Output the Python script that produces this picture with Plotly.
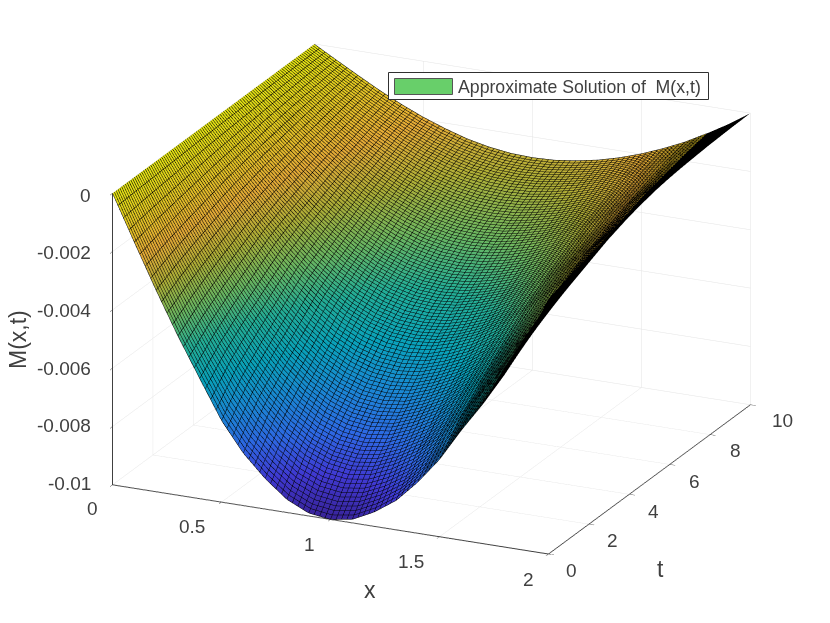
import plotly.graph_objects as go

# Values
x_vals = [0.0, 0.1, 0.2, 0.3, 0.4, 0.5, 0.6, 0.7, 0.8, 0.9, 1.0, 1.1, 1.2, 1.3, 1.4, 1.5, 1.6, 1.7, 1.8, 1.9, 2.0]
t_vals = [0, 1, 2, 3, 4, 5, 6, 7, 8, 9, 10]
M_t0 = [0, -.00156, -.00309, -.00454, -.00588, -.00720, -.00820, -.00895, -.00955, -.00990, -.01000, -.00988, -.00951, -.00900, -.00825, -.00735, -.00623, -.00520, -.00406, -.00281, -.00125]
M_t1 = [0, -.00137, -.00272, -.00400, -.00517, -.00622, -.00712, -.00784, -.00837, -.00869, -.00880, -.00869, -.00837, -.00792, -.00726, -.00647, -.00548, -.00456, -.00354, -.00239, -.00100]
M_t2 = [0, -.00122, -.00241, -.00354, -.00459, -.00551, -.00631, -.00695, -.00742, -.00771, -.00780, -.00771, -.00742, -.00702, -.00644, -.00573, -.00486, -.00402, -.00310, -.00205, -.00080]
M_t3 = [0, -.00108, -.00213, -.00313, -.00406, -.00488, -.00558, -.00615, -.00656, -.00682, -.00690, -.00682, -.00656, -.00621, -.00569, -.00507, -.00430, -.00354, -.00269, -.00173, -.00060]
M_t4 = [0, -.00094, -.00185, -.00272, -.00353, -.00424, -.00485, -.00535, -.00571, -.00593, -.00600, -.00593, -.00571, -.00540, -.00495, -.00441, -.00374, -.00305, -.00228, -.00141, -.00040]
M_t5 = [0, -.00083, -.00164, -.00241, -.00312, -.00375, -.00429, -.00472, -.00504, -.00524, -.00530, -.00524, -.00504, -.00477, -.00437, -.00390, -.00330, -.00266, -.00193, -.00116, -.00025]
M_t6 = [0, -.00073, -.00145, -.00213, -.00276, -.00332, -.00380, -.00419, -.00447, -.00464, -.00470, -.00464, -.00447, -.00423, -.00388, -.00345, -.00293, -.00233, -.00168, -.00097, -.00015]
M_t7 = [0, -.00064, -.00127, -.00186, -.00241, -.00290, -.00332, -.00365, -.00390, -.00405, -.00410, -.00405, -.00390, -.00369, -.00338, -.00301, -.00255, -.00203, -.00142, -.00082, -.00010]
M_t8 = [0, -.00056, -.00111, -.00163, -.00212, -.00255, -.00291, -.00321, -.00342, -.00356, -.00360, -.00356, -.00342, -.00324, -.00297, -.00265, -.00224, -.00178, -.00125, -.00069, -.00005]
M_t9 = [0, -.00048, -.00096, -.00141, -.00182, -.00219, -.00251, -.00276, -.00295, -.00306, -.00310, -.00306, -.00295, -.00279, -.00256, -.00228, -.00193, -.00153, -.00107, -.00058, -.00002]
M_t10 = [0, -.00042, -.00083, -.00123, -.00159, -.00191, -.00218, -.00241, -.00257, -.00267, -.00270, -.00267, -.00257, -.00243, -.00223, -.00198, -.00168, -.00134, -.00093, -.00049, 0]
M_rows = [M_t0, M_t1, M_t2, M_t3, M_t4, M_t5, M_t6, M_t7, M_t8, M_t9, M_t10]

x_ticks = [0, 0.5, 1, 1.5, 2]
t_ticks = [0, 2, 4, 6, 8, 10]
z_ticks = [-0.01, -0.008, -0.006, -0.004, -0.002, 0]
x_tick_text = ["0", "0.5", "1", "1.5", "2"]
t_tick_text = ["0", "2", "4", "6", "8", "10"]
z_tick_text = ["-0.01", "-0.008", "-0.006", "-0.004", "-0.002", "0"]
legend_label = "Approximate Solution of  M(x,t)"

W, H = 830, 623
TXT = "#404040"
FONT = "Liberation Sans, Arial, sans-serif"
SPLIT = 18  # the mesh reads as solid black from this column to x=2

parula = [
    [0.0, "rgb(62,38,168)"], [0.1, "rgb(70,63,231)"], [0.2, "rgb(50,115,250)"],
    [0.3, "rgb(28,150,232)"], [0.4, "rgb(10,178,205)"], [0.5, "rgb(38,190,165)"],
    [0.6, "rgb(115,199,107)"], [0.7, "rgb(190,190,60)"], [0.8, "rgb(250,186,60)"],
    [0.9, "rgb(247,217,38)"], [1.0, "rgb(249,250,20)"],
]

fig = go.Figure()
fig.add_trace(go.Surface(
    x=x_vals[:SPLIT + 1], y=t_vals, z=[r[:SPLIT + 1] for r in M_rows],
    colorscale=parula, cmin=-0.01, cmax=0, showscale=False,
    lighting=dict(ambient=0.88, diffuse=0.05, specular=0, roughness=1, fresnel=0),
    contours=dict(
        x=dict(show=True, start=0, end=2.0001, size=0.025, color="black", width=1, highlight=False),
        y=dict(show=True, start=0, end=10.001, size=0.09, color="black", width=1, highlight=False),
        z=dict(show=False, highlight=False),
    ),
    hoverinfo="skip",
))
fig.add_trace(go.Surface(
    x=x_vals[SPLIT:], y=t_vals, z=[r[SPLIT:] for r in M_rows],
    colorscale=[[0, "black"], [1, "black"]], cmin=-0.01, cmax=0, showscale=False,
    lighting=dict(ambient=1, diffuse=0, specular=0, roughness=1, fresnel=0),
    hoverinfo="skip",
))

def ax(rng, ticks):
    return dict(
        range=rng, tickvals=ticks, showticklabels=False, title=dict(text=""),
        showgrid=True, gridcolor="#e4e4e4", gridwidth=1, zeroline=False,
        showline=True, linecolor="#404040", linewidth=2, ticks="outside", ticklen=6,
        tickcolor="#404040", tickwidth=1, showbackground=False, showspikes=False,
    )

D = 1.258
fig.update_layout(
    width=W, height=H, autosize=False,
    margin=dict(l=0, r=0, t=0, b=0),
    paper_bgcolor="white",
    font=dict(family=FONT, color=TXT),
    scene=dict(
        domain=dict(x=[0.04, 1.0], y=[0.04, 1.0]),
        xaxis=ax([0, 2], x_ticks), yaxis=ax([0, 10], t_ticks), zaxis=ax([-0.01, 0], z_ticks),
        aspectmode="manual", aspectratio=dict(x=1.607, y=1.607, z=1.038),
        camera=dict(projection=dict(type="orthographic"), up=dict(x=0, y=0, z=1),
                    center=dict(x=0, y=0, z=0),
                    eye=dict(x=D * 0.9396 * 0.4204, y=-D * 0.9396 * 0.9073, z=D * 0.3424)),
    ),
    shapes=[
        dict(type="rect", xref="paper", yref="paper", x0=388.5 / W, x1=708.5 / W,
             y0=1 - 99.5 / H, y1=1 - 72.5 / H, fillcolor="white", line=dict(color="#303030", width=1), layer="above"),
        dict(type="rect", xref="paper", yref="paper", x0=394.5 / W, x1=452.5 / W,
             y0=1 - 94.5 / H, y1=1 - 78.5 / H, fillcolor="#68cf6a", line=dict(color="#555555", width=1), layer="above"),
    ],
)

def label(text, px, py, size=19, anchor="center", angle=0):
    fig.add_annotation(text=text, xref="paper", yref="paper", x=px / W, y=1 - py / H,
                       showarrow=False, xanchor=anchor, yanchor="middle", textangle=angle,
                       font=dict(size=size, color=TXT, family=FONT))

for s, p in zip(x_tick_text, [(92, 508), (192, 526), (309, 544), (411, 561), (528, 579)]):
    label(s, *p)
for s, p in zip(t_tick_text, [(571, 570), (612, 540), (653, 511), (694, 481), (735, 450), (782, 420)]):
    label(s, *p)
for s, py in zip(z_tick_text, [483, 425, 368, 310, 253, 195]):
    label(s, 93, py, anchor="right")
label("x", 370, 590, size=23)
label("t", 660, 569, size=23)
label("M(x,t)", 18, 340, size=23, angle=-90)
label(legend_label, 456, 87, size=17.7, anchor="left")

fig.write_html("out.html", config=dict(displayModeBar=False),
               post_script="document.body.style.margin='0';document.documentElement.style.overflow='hidden';")
